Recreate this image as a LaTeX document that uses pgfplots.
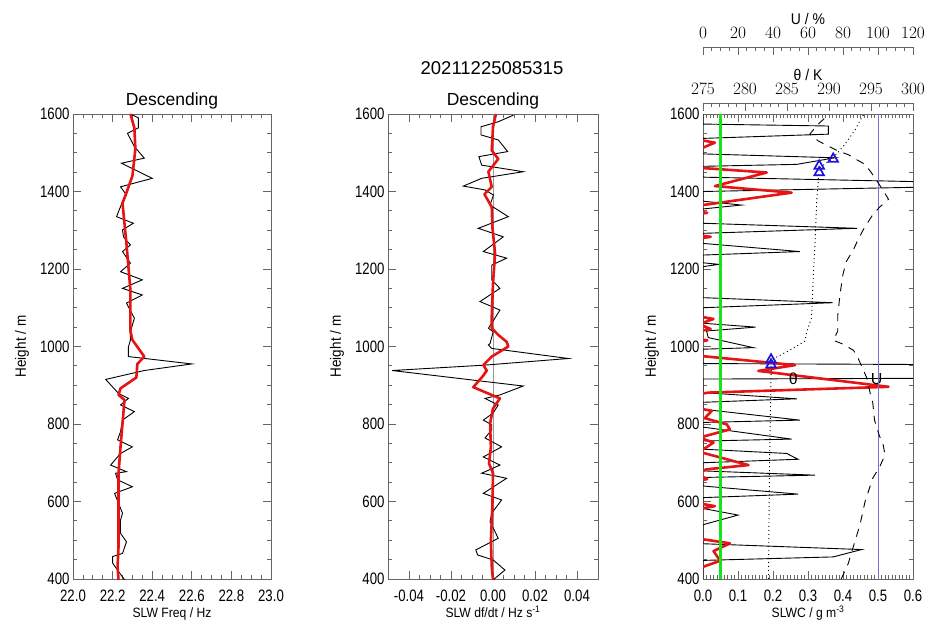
\documentclass[border=0pt]{standalone}
\usepackage{fontspec}
\setmainfont{Liberation Sans}
\newfontfamily\tickfont{Liberation Sans}[FakeStretch=0.8]
\newfontfamily\labfont{Liberation Sans}[FakeStretch=0.9]
\usepackage{pgfplots}
\pgfplotsset{compat=1.18}

\definecolor{idlred}{RGB}{230,20,20}
\definecolor{idlgreen}{RGB}{20,230,20}
\definecolor{idlblue}{RGB}{30,20,220}
\definecolor{uline}{RGB}{120,110,210}

\pgfplotsset{
  idl/.style={
    scale only axis, height=465pt,
    ymin=400, ymax=1600,
    ytick={400,600,800,1000,1200,1400,1600},
    yticklabels={400,600,800,1000,1200,1400,1600},
    minor y tick num=3,
    tick align=inside,
    major tick length=8pt, minor tick length=4pt,
    axis line style={black!60, line width=0.9pt},
    every tick/.style={black!60, line width=0.8pt},
    ticklabel style={font=\fontsize{16.5}{16.5}\tickfont},
    xticklabel style={anchor=base, yshift=-22.7pt},
    yticklabel style={anchor=east},
    xlabel style={font=\fontsize{13.5}{13.5}\labfont, at={(axis description cs:0.5,0)}, anchor=base, yshift=-38.5pt},
    ylabel style={font=\fontsize{15}{15}\labfont, anchor=center},
    ylabel={Height / m},
    title style={font=\fontsize{17.5}{17.5}\selectfont, at={(axis description cs:0.5,1)}, anchor=base, yshift=2pt},
  },
  overlay/.style={
    scale only axis, height=465pt, width=210pt, hide axis,
    ymin=400, ymax=1600,
  },
  scalebar/.style={
    scale only axis, width=210pt, height=1pt, anchor=south west,
    ymin=0, ymax=1, axis x line*=top, axis y line=none,
    tick align=inside,
    major tick length=8pt, minor tick length=4pt,
    axis line style={black!60, line width=0.9pt},
    every tick/.style={black!60, line width=0.8pt},
    ticklabel style={font=\fontsize{16.5}{16.5}\tickfont},
    xticklabel style={anchor=base, yshift=8pt},
    xlabel style={font=\fontsize{15.5}{15.5}\labfont, at={(axis description cs:0.5,1)}, anchor=base, yshift=22pt},
  },
  blackline/.style={black, line width=0.9pt},
  redline/.style={idlred, line width=2.6pt, line join=round},
}

\begin{document}
\begin{tikzpicture}
\useasboundingbox (0,0) rectangle (925pt,623pt);

\node[font=\fontsize{18.5}{18.5}\selectfont, anchor=base] at (492pt,548pt) {20211225085315};

% ---- panel 1: frequency
\begin{axis}[idl, at={(73pt,44pt)}, anchor=south west, width=198pt,
  xmin=22, xmax=23,
  xtick={22,22.2,22.4,22.6,22.8,23}, xticklabels={22.0,22.2,22.4,22.6,22.8,23.0},
  minor x tick num=3,
  title={Descending}, xlabel={SLW Freq / Hz},
  ylabel style={at={(axis description cs:-0.258,0.5)}}]
\addplot[blackline] coordinates {
(22.29,1600)(22.33,1590)(22.33,1564)(22.275,1550)(22.31,1516)(22.36,1486)(22.245,1473)
(22.40,1434)(22.24,1412)(22.27,1391)(22.25,1374)(22.22,1335)(22.305,1318)(22.25,1301)
(22.255,1283)(22.29,1262)(22.25,1245)(22.29,1215)(22.24,1193)(22.35,1172)(22.25,1150)
(22.35,1133)(22.27,1112)(22.31,1073)(22.29,1038)(22.29,1017)(22.28,999)(22.28,974)
(22.60,955)(22.36,938)(22.165,915)(22.23,879)(22.28,866)(22.24,849)(22.31,832)(22.25,810)
(22.24,780)(22.225,759)(22.30,741)(22.24,724)(22.19,694)(22.27,677)(22.215,673)(22.225,656)
(22.30,638)(22.21,621)(22.23,595)(22.25,570)(22.24,552)(22.24,518)(22.27,496)(22.25,466)
(22.20,458)(22.20,441)(22.26,398)};
\addplot[redline] coordinates {
(22.29,1600)(22.31,1564)(22.315,1510)(22.30,1440)(22.27,1397)(22.25,1370)(22.27,1265)
(22.29,1145)(22.29,1040)(22.30,1017)(22.36,974)(22.325,955)(22.32,920)(22.24,892)
(22.23,875)(22.26,862)(22.25,801)(22.24,741)(22.23,673)(22.23,586)(22.23,484)(22.225,432)
(22.23,398)};
\end{axis}

% ---- panel 2: df/dt
\begin{axis}[idl, at={(388pt,44pt)}, anchor=south west, width=210pt,
  xmin=-0.05, xmax=0.05,
  xtick={-0.04,-0.02,0,0.02,0.04}, xticklabels={-0.04,-0.02,0.00,0.02,0.04},
  minor x tick num=3,
  title={Descending}, xlabel={SLW df/dt / Hz s\textsuperscript{-1}},
  ylabel style={at={(axis description cs:-0.243,0.5)}}]
\addplot[gray!80, line width=0.8pt] coordinates {(0,400)(0,1600)};
\addplot[blackline] coordinates {
(0.0097,1597)(0.0025,1580)(-0.0057,1567)(-0.0057,1546)(0.0025,1533)(0.007,1503)(-0.0067,1490)
(-0.0054,1468)(0.0144,1451)(-0.0054,1434)(-0.0141,1414)(-0.0038,1404)(0.0002,1391)(-0.0014,1365)
(0.0073,1335)(-0.007,1305)(0.0049,1283)(-0.0046,1245)(0.0065,1228)(-0.0006,1210)(-0.0006,1172)
(0.0033,1150)(-0.0062,1116)(0.0033,1094)(-0.0006,1060)(-0.0022,1047)(0.0001,1038)(-0.0014,1008)
(-0.0022,1004)(-0.0006,995)(0.0359,969)(-0.0038,952)(-0.048,938)(0.0144,898)(0.0033,875)
(-0.0038,866)(0.0025,849)(0,828)(-0.0046,810)(-0.0006,798)(-0.0006,785)(-0.0038,764)(0.0041,741)
(-0.0046,715)(0.0033,694)(-0.0054,673)(0.0065,660)(-0.0046,621)(0.0041,604)(-0.0006,570)
(-0.0014,548)(0.0025,505)(-0.0082,475)(-0.0073,462)(0.0001,449)(0.0057,423)(0.0001,398)};
\addplot[redline] coordinates {
(0.0014,1600)(0,1567)(-0.0006,1506)(0.0025,1484)(-0.0022,1451)(-0.0006,1412)(-0.0041,1393)
(-0.0006,1360)(-0.0003,1308)(0.001,1240)(0,1163)(-0.0006,1077)(-0.0006,1047)(0.0025,1030)
(0.0065,1012)(0.0073,1000)(-0.0006,974)(-0.0046,952)(-0.003,938)(-0.0046,925)(-0.0094,895)
(0.0033,866)(0,840)(-0.0014,801)(-0.001,741)(-0.0019,698)(0,673)(-0.0003,586)(-0.001,500)
(-0.0006,432)(0,398)};
\end{axis}

% ---- panel 3: SLWC
\begin{axis}[idl, at={(703pt,44pt)}, anchor=south west, width=210pt,
  xmin=0, xmax=0.6,
  xtick={0,0.1,0.2,0.3,0.4,0.5,0.6}, xticklabels={0.0,0.1,0.2,0.3,0.4,0.5,0.6},
  minor x tick num=9,
  xlabel={SLWC / g m\textsuperscript{-3}},
  ylabel style={at={(axis description cs:-0.243,0.5)}}]
\addplot[blackline] coordinates {
(0,1600)(0,1574)(0.358,1569)(0.358,1548)(0,1537)(0,1497)(0.377,1487)(0.268,1470)(0,1465)
(0,1437)(1.0,1418)(0,1400)(0,1375)(0.11,1365)(0,1355)(0,1318)(0.44,1305)(0,1292)
(0,1266)(0.277,1245)(0,1236)(0,1216)(0.045,1212)(0,1206)(0,1126)(0.37,1113)(0,1100)
(0,1060)(0.15,1050)(0.01,1040)(0.015,1023)(0.144,997)(0,993)(0,956)(1.0,952)(1.0,919)(0,916)
(0,881)(0.268,865)(0,856)(0,838)(0.277,810)(0,804)(0,792)(0.253,761)(0,756)(0,735)
(0.239,724)(0.272,709)(0,700)(0,679)(0.32,668)(0,662)(0,640)(0.272,619)(0,610)(0,582)
(0.10,565)(0,540)(0,491)(0.453,476)(0.372,457)(0,448)(0,400)};
\addplot[redline] coordinates {
(-0.04,1600)(-0.04,1538)(0.034,1526)(-0.04,1498)(-0.04,1463)(0.182,1449)(0.034,1414)
(0.253,1397)(-0.04,1360)(-0.04,1350)(0.012,1345)(-0.04,1338)(-0.04,1290)(0.022,1283)
(-0.04,1275)(-0.04,1082)(0.03,1071)(-0.01,1058)(0.022,1045)(-0.04,1035)(-0.04,1022)
(0.012,1016)(-0.04,1006)(-0.04,990)(0.0,975)(0.263,952)(0.158,937)(0.53,896)(0.015,881)
(-0.04,872)(-0.04,845)(0.025,834)(0.005,815)(0.068,799)(0.077,786)(-0.01,765)(0.03,752)
(-0.01,728)(0.13,694)(0.01,683)(-0.02,672)(0.012,658)(-0.04,648)(-0.04,600)(0.034,588)
(-0.04,576)(-0.04,508)(0.077,492)(0.03,472)(0.049,447)(-0.02,425)(-0.04,400)};
\addplot[idlgreen, line width=3.5pt] coordinates {(0.05,400)(0.05,1600)};
\node[font=\fontsize{16}{16}\selectfont] at (axis cs:0.258,916) {θ};
\node[font=\fontsize{16}{16}\selectfont] at (axis cs:0.496,916) {U};
\end{axis}

% theta profile
\begin{axis}[overlay, at={(703pt,44pt)}, anchor=south west, xmin=275, xmax=300]
\addplot[black, line width=0.9pt, dash pattern=on 1pt off 3pt] coordinates {
(282.79,400)(282.92,700)(283.12,950)(283.33,968)(285.3,990)(287.13,1014)(287.33,1036)
(287.92,1074)(288.0,1118)(288.17,1200)(288.33,1264)(288.54,1376)(288.75,1436)(288.83,1460)
(290.42,1485)(291.83,1520)(293.13,1560)(293.71,1584)(294.17,1600)};
\addplot[idlblue, only marks, mark=triangle, mark size=5.5pt, line width=1.7pt] coordinates {
(283.1,953)(283.1,966)(288.83,1449)(288.83,1466)(290.5,1484)};
\end{axis}

% relative humidity profile
\begin{axis}[overlay, at={(703pt,44pt)}, anchor=south west, xmin=0, xmax=120]
\addplot[uline, line width=0.9pt] coordinates {(100,400)(100,1600)};
\addplot[black, line width=0.9pt, dash pattern=on 8pt off 7pt] coordinates {
(79,400)(83,440)(86,485)(89.7,540)(92.6,600)(97,660)(101,690)(104,720)(103,745)(100.6,772)
(98,810)(97,855)(95.5,880)(93.5,920)(91,945)(88.6,970)(86,990)(80,1006)(74.5,1016)(77,1040)
(77,1080)(78.3,1135)(80,1187)(82,1220)(86,1250)(88,1270)(92,1305)(97,1340)(101,1360)
(106,1380)(104,1395)(99,1430)(96,1450)(92.6,1470)(88.6,1480)(83,1495)(77,1505)(66,1530)
(61,1548)(65,1570)(72,1600)};
\end{axis}

% theta scale
\begin{axis}[scalebar, at={(703pt,519pt)}, xmin=275, xmax=300,
  xtick={275,280,285,290,295,300}, minor x tick num=4, xlabel={θ / K}]
\addplot[draw=none] coordinates {(275,0)(300,1)};
\end{axis}

% humidity scale
\begin{axis}[scalebar, at={(703pt,575pt)}, xmin=0, xmax=120,
  xtick={0,20,40,60,80,100,120}, minor x tick num=3, xlabel={U / \%}]
\addplot[draw=none] coordinates {(0,0)(120,1)};
\end{axis}
\end{tikzpicture}
\end{document}
